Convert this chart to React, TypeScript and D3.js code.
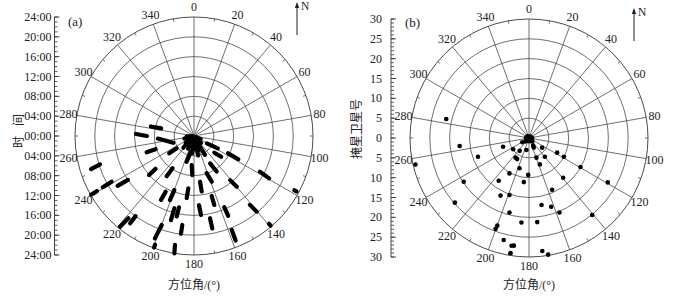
import React from 'react'
import * as d3 from 'd3'

// azimuth ticks (degrees, clockwise from north)
const azimuthTicks = [0, 20, 40, 60, 80, 100, 120, 140, 160, 180, 200, 220, 240, 260, 280, 300, 320, 340]
const timeTickLabels = ['24:00', '20:00', '16:00', '12:00', '08:00', '04:00', '00:00', '04:00', '08:00', '12:00', '16:00', '20:00', '24:00']
const satTickLabels = ['30', '25', '20', '15', '10', '5', '0', '5', '10', '15', '20', '25', '30']

// (a) satellite tracks: [azimuth start, hour start, azimuth end, hour end]
const tracksA: [number, number, number, number][] = [
  [283, 6.8, 282.5, 8.9],
  [270, 9.5, 272, 11.7],
  [252, 4.4, 266, 7.3],
  [251, 8.2, 251, 10.1],
  [234.6, 4.3, 235, 6.1],
  [253.2, 19.8, 252.2, 21.8],
  [241, 19, 240.7, 21.1],
  [236.4, 16, 236.9, 18.4],
  [229.5, 10.2, 229.1, 12],
  [213.6, 7.8, 214.3, 9.8],
  [190.8, 3.2, 196, 5.4],
  [184.5, 5.9, 182.5, 7.9],
  [207, 12.6, 207.3, 14.5],
  [200, 11.6, 200.6, 13.8],
  [186.2, 10.6, 186.7, 12.6],
  [218.6, 21.2, 219.2, 23.6],
  [216.1, 20, 216.2, 21.8],
  [195.2, 15.1, 195.3, 17.6],
  [191.9, 14.7, 192.1, 16.6],
  [187.5, 18.1, 187.6, 19.9],
  [199.9, 19.1, 200.9, 22.1],
  [199.7, 23.3, 199.7, 23.9],
  [189.9, 22.3, 189.5, 24],
  [240.4, 22.5, 240.3, 23.9],
  [120, 3.0, 117.4, 5.4],
  [129.4, 5.3, 127.5, 6.9],
  [116.8, 7.7, 117.7, 10.1],
  [118.4, 15.1, 119.4, 17.4],
  [118.4, 23.0, 118.4, 23.5],
  [150.7, 2.5, 149.9, 4.4],
  [149.6, 6.4, 147.5, 8.5],
  [161.2, 7.9, 158.8, 9.9],
  [140.7, 11.5, 139.9, 13.4],
  [172.5, 9.3, 172.1, 11.3],
  [163.6, 12.6, 163.6, 14.5],
  [157, 15.6, 156.8, 17.5],
  [140.9, 17.9, 140.4, 19.8],
  [175.9, 14, 174.9, 16],
  [169, 16.9, 168.8, 19],
  [158.1, 20.4, 158.3, 22.7],
  [139.5, 23.3, 139.5, 23.8],
  [200, 0.5, 205, 2.8],
  [175, 0.5, 178, 2.6],
  [160, 0.8, 163, 3],
  [215, 0.6, 230, 2.2],
  [140, 0.5, 135, 2],
  [245, 0.6, 255, 2],
  [185, 0.5, 186, 3.5],
  [120, 0.5, 115, 1.5],
  [270, 0.3, 265, 1.5],
  [170, 1.5, 168, 4],
  [225, 1.5, 222, 3.2],
  [195, 0.3, 192, 2.2],
  [155, 0.4, 152, 1.8],
]

// (b) occultation satellites: [azimuth, satellite number]
const pointsB: [number, number][] = [
  [282.9, 21.4], [263.4, 17.6], [256.9, 29.4], [249.9, 13.7], [251.4, 6.9],
  [234.4, 4.9], [215.9, 4.0], [214.4, 6.0], [209.3, 6.1], [191.8, 3.1],
  [236.2, 19.8], [228.9, 24.8], [215.3, 13.2], [197.4, 8.0], [208.9, 10.2],
  [186.7, 11.2], [181.2, 9.3], [206.3, 16.2], [198.9, 15.2], [194.7, 19.4],
  [185.1, 21.4], [199.9, 23.5], [200.2, 24.4], [193.9, 26.5], [189.2, 27.5],
  [188.0, 27.4], [189.1, 29.4], [153.7, 2.7], [126.3, 4.1], [117.5, 8.0],
  [118.3, 10.0], [119.4, 14.9], [119.4, 22.8], [159.2, 5.3], [139.8, 6.2],
  [139.3, 13.2], [140.6, 25.1], [157.7, 7.2], [156.0, 14.3], [162.1, 18.2],
  [157.8, 20.3], [174.4, 21.3], [169.4, 17.2], [173.3, 28.7], [170.7, 29.8],
  [151.4, 2.2], [237.7, 2.0],
  [0, 0.3], [90, 0.8], [180, 0.8], [270, 0.8], [45, 0.5], [225, 1.2], [135, 1.2], [315, 0.6],
]

const serif = '"Liberation Serif", "DejaVu Serif", serif'
const cjk = '"Noto Sans CJK SC", sans-serif'
const gridColor = '#4a4a4a'

type PanelProps = {
  cx: number
  cy: number
  R: number
  max: number
  tickLabels: string[]
  minorStep: number
  axisX: number
  labelGap: number
  letter: string
  letterX: number
  letterY: number
  arrowX: number
  arrowTop: number
  children: (r: d3.ScaleLinear<number, number>, a: d3.ScaleLinear<number, number>) => React.ReactNode
}

function PolarPanel(p: PanelProps) {
  const { cx, cy, R, max } = p
  const r = d3.scaleLinear().domain([0, max]).range([0, R])
  const a = d3.scaleLinear().domain([0, 360]).range([0, 2 * Math.PI])
  const ringStep = max / 6
  const rings = d3.range(ringStep, max + 0.001, ringStep)
  const y = d3.scaleLinear().domain([max, -max]).range([cy - R, cy + R])
  const majorVals = d3.range(max, -max - 0.001, -ringStep)
  const minorVals = d3.range(max, -max - 0.001, -p.minorStep)
  const minorAz = d3.range(10, 360, 20)

  return (
    <g>
      <g transform={`translate(${cx},${cy})`}>
        {rings.map((v) => (
          <circle key={v} r={r(v)} fill="none" stroke={gridColor} strokeWidth={v === max ? 1 : 0.8} />
        ))}
        {azimuthTicks.map((az) => {
          const [x2, y2] = d3.pointRadial(a(az), R)
          return <line key={az} x1={0} y1={0} x2={x2} y2={y2} stroke={gridColor} strokeWidth={0.8} />
        })}
        {minorAz.map((az) => {
          const [x1, y1] = d3.pointRadial(a(az), R)
          const [x2, y2] = d3.pointRadial(a(az), R - 3)
          return <line key={az} x1={x1} y1={y1} x2={x2} y2={y2} stroke={gridColor} strokeWidth={0.8} />
        })}
        {azimuthTicks.map((az) => {
          const [dx, dy] = d3.pointRadial(a(az), 1)
          return (
            <text key={az} x={dx * (R + 8.5)} y={dy * (R + (dy > 0 ? 8.5 : 10))} textAnchor="middle" dominantBaseline="central"
              fontFamily={serif} fontSize={12} fill="#222">
              {az}
            </text>
          )
        })}
        {p.children(r, a)}
      </g>
      {/* left radial axis */}
      <line x1={p.axisX} x2={p.axisX} y1={y(max)} y2={y(-max)} stroke="#333" strokeWidth={0.9} />
      {minorVals.map((v) => (
        <line key={'m' + v} x1={p.axisX} x2={p.axisX + 3} y1={y(v)} y2={y(v)} stroke="#333" strokeWidth={0.8} />
      ))}
      {majorVals.map((v, i) => (
        <g key={'M' + v}>
          <line x1={p.axisX} x2={p.axisX + 5} y1={y(v)} y2={y(v)} stroke="#333" strokeWidth={0.9} />
          <text x={p.axisX - p.labelGap} y={y(v)} textAnchor="end" dominantBaseline="central"
            fontFamily={serif} fontSize={12} fill="#222">
            {p.tickLabels[i]}
          </text>
        </g>
      ))}
      <text x={p.letterX} y={p.letterY} fontFamily={serif} fontSize={13} fill="#222">{p.letter}</text>
      <text x={cx} y={289} textAnchor="middle" fontFamily={cjk} fontSize={12} fill="#222">
        方位角<tspan fontFamily={serif}>/(°)</tspan>
      </text>
      {/* north arrow */}
      <line x1={p.arrowX} x2={p.arrowX} y1={p.arrowTop + 4} y2={p.arrowTop + 33} stroke="#222" strokeWidth={1} />
      <path d={`M${p.arrowX},${p.arrowTop} l-2.2,6 l4.4,0 Z`} fill="#222" />
      <text x={p.arrowX + 4} y={p.arrowTop + 8} fontFamily={serif} fontSize={11.5} fill="#222">N</text>
    </g>
  )
}

export default function App() {
  return (
    <svg width={700} height={300} style={{ display: 'block', position: 'absolute', left: 0, top: 0, background: '#fff' }}>
      <PolarPanel cx={194} cy={136} R={119} max={24} tickLabels={timeTickLabels} minorStep={1}
        axisX={54.5} labelGap={3} letter="(a)" letterX={68} letterY={26} arrowX={297} arrowTop={2}>
        {(r, a) =>
          tracksA.map(([az0, t0, az1, t1], i) => {
            const [x1, y1] = d3.pointRadial(a(az0), r(t0))
            const [x2, y2] = d3.pointRadial(a(az1), r(t1))
            return <line key={i} x1={x1} y1={y1} x2={x2} y2={y2} stroke="#000" strokeWidth={4.2} strokeLinecap="round" />
          })
        }
      </PolarPanel>
      <text transform="translate(17,131) rotate(-90)" textAnchor="middle" dominantBaseline="central"
        fontFamily={cjk} fontSize={12} fill="#222">
        时<tspan dx={10}>间</tspan>
      </text>

      <PolarPanel cx={529} cy={138} R={119} max={30} tickLabels={satTickLabels} minorStep={1}
        axisX={391} labelGap={9} letter="(b)" letterX={405} letterY={27} arrowX={634} arrowTop={8}>
        {(r, a) =>
          pointsB.map(([az, v], i) => {
            const [x, y] = d3.pointRadial(a(az), r(v))
            return <circle key={i} cx={x} cy={y} r={2.3} fill="#000" />
          })
        }
      </PolarPanel>
      <text transform="translate(355,129) rotate(-90)" textAnchor="middle" dominantBaseline="central"
        fontFamily={cjk} fontSize={12} fill="#222">
        掩星卫星号
      </text>
    </svg>
  )
}
